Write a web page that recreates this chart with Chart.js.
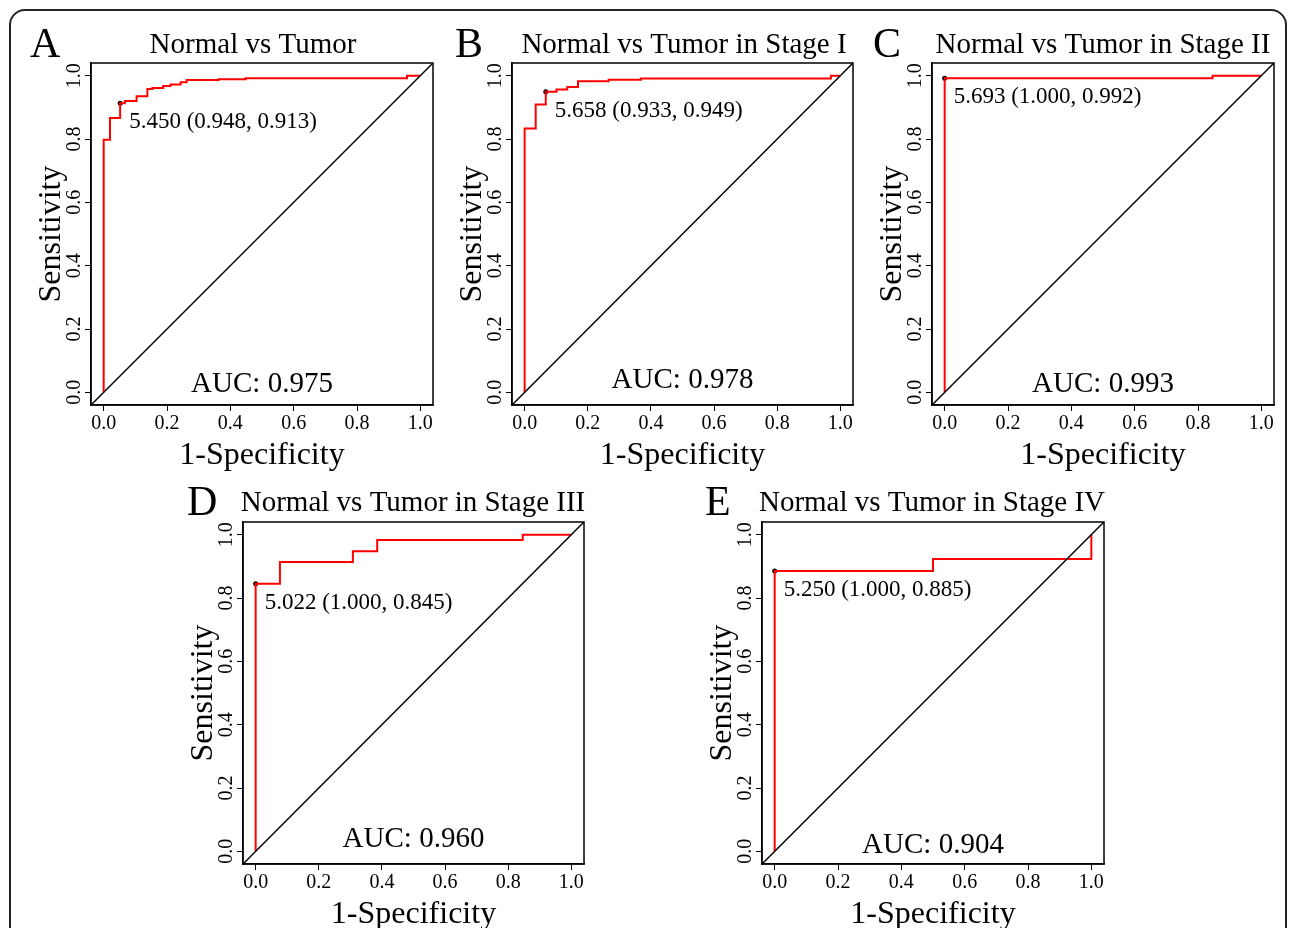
<!DOCTYPE html>
<html>
<head>
<meta charset="utf-8">
<script src="https://cdn.jsdelivr.net/npm/chart.js@4.4.1/dist/chart.umd.min.js"></script>
<style>
    html, body { margin: 0; padding: 0; background: #fff; }
    #wrap { position: relative; width: 1292px; height: 928px; overflow: hidden; }
    #frame { position: absolute; left: 9px; top: 9px; width: 1274px; height: 960px; border: 2px solid #222; border-radius: 16px; }
    canvas { position: absolute; left: 0; top: 0; }
</style>
</head>
<body>
<div id="wrap">
    <div id="frame"></div>
    <canvas id="c0" width="1292" height="928"></canvas>
    <canvas id="c1" width="1292" height="928"></canvas>
    <canvas id="c2" width="1292" height="928"></canvas>
    <canvas id="c3" width="1292" height="928"></canvas>
    <canvas id="c4" width="1292" height="928"></canvas>
</div>
<script>
// --- data ---
const panelLetters = ['A', 'B', 'C', 'D', 'E'];
const panelTitles = [
    'Normal vs Tumor',
    'Normal vs Tumor in Stage I',
    'Normal vs Tumor in Stage II',
    'Normal vs Tumor in Stage III',
    'Normal vs Tumor in Stage IV'
];
const aucValues = ['0.975', '0.978', '0.993', '0.960', '0.904'];
const thrValues = ['5.450', '5.658', '5.693', '5.022', '5.250'];
const thrSpec = [0.948, 0.933, 1.000, 1.000, 1.000];
const thrSens = [0.913, 0.949, 0.992, 0.845, 0.885];

// ROC points: 1-specificity / sensitivity (drawn as steps)
const fprA = [0, 0, 0.020, 0.052, 0.067, 0.104, 0.138, 0.154, 0.188, 0.211, 0.243, 0.262, 0.363, 0.448, 0.958, 1.0];
const tprA = [0, 0.798, 0.866, 0.913, 0.920, 0.935, 0.958, 0.961, 0.967, 0.972, 0.979, 0.986, 0.989, 0.992, 1.0, 1.0];
const fprB = [0, 0, 0.035, 0.067, 0.101, 0.135, 0.169, 0.266, 0.368, 0.970, 1.0];
const tprB = [0, 0.833, 0.909, 0.949, 0.956, 0.964, 0.982, 0.987, 0.991, 1.0, 1.0];
const fprC = [0, 0, 0.846, 1.0];
const tprC = [0, 0.992, 1.0, 1.0];
const fprD = [0, 0, 0.077, 0.308, 0.385, 0.846, 1.0];
const tprD = [0, 0.845, 0.914, 0.948, 0.983, 1.0, 1.0];
const fprE = [0, 0, 0.5, 1.0];
const tprE = [0, 0.885, 0.923, 1.0];

const tickValues = [0, 0.2, 0.4, 0.6, 0.8, 1.0];
const diagX = [-0.04, 1.04];
const diagY = [-0.04, 1.04];

const rocX = [fprA, fprB, fprC, fprD, fprE];
const rocY = [tprA, tprB, tprC, tprD, tprE];

// --- layout (pixels) ---
const W = 1292, H = 928, YW = 40, XH = 40;
const boxes = [
    { l: 91,  t: 63,  r: 433,  b: 405, titleX: 253,  titleY: 53,  letterX: 30,  letterY: 57,  aucY: 0.0 },
    { l: 512, t: 63,  r: 853,  b: 405, titleX: 684,  titleY: 53,  letterX: 455, letterY: 57,  aucY: 0.013 },
    { l: 932, t: 63,  r: 1274, b: 405, titleX: 1103, titleY: 53,  letterX: 873, letterY: 57,  aucY: 0.0 },
    { l: 243, t: 522, r: 584,  b: 864, titleX: 413,  titleY: 511, letterX: 187, letterY: 515, aucY: 0.013 },
    { l: 762, t: 522, r: 1104, b: 864, titleX: 932,  titleY: 511, letterX: 705, letterY: 515, aucY: -0.006 }
];
const SERIF = '"Liberation Serif", "DejaVu Serif", serif';

function decor(i) {
    const bx = boxes[i];
    return {
        id: 'decor' + i,
        afterDraw(chart) {
            const { ctx, chartArea: a, scales: { x, y } } = chart;
            ctx.save();
            ctx.strokeStyle = '#000';
            ctx.lineWidth = 1.5;
            ctx.strokeRect(a.left, a.top, a.right - a.left, a.bottom - a.top);
            ctx.fillStyle = '#000';

            // rotated y tick labels
            ctx.font = '20px ' + SERIF;
            ctx.textAlign = 'center';
            ctx.textBaseline = 'alphabetic';
            y.ticks.forEach(t => {
                ctx.save();
                ctx.translate(a.left - 11, y.getPixelForValue(t.value));
                ctx.rotate(-Math.PI / 2);
                ctx.fillText(t.value.toFixed(1), 0, 0);
                ctx.restore();
            });

            // axis titles
            ctx.font = '32px ' + SERIF;
            ctx.fillText('1-Specificity', (a.left + a.right) / 2, a.bottom + 59);
            ctx.save();
            ctx.translate(a.left - 31, (a.top + a.bottom) / 2);
            ctx.rotate(-Math.PI / 2);
            ctx.fillText('Sensitivity', 0, 0);
            ctx.restore();

            // panel title + letter
            ctx.font = '29px ' + SERIF;
            ctx.fillText(panelTitles[i], bx.titleX, bx.titleY);
            ctx.font = '42px ' + SERIF;
            ctx.textAlign = 'left';
            ctx.fillText(panelLetters[i], bx.letterX, bx.letterY);

            // AUC
            ctx.font = '29px ' + SERIF;
            ctx.textAlign = 'center';
            ctx.fillText('AUC: ' + aucValues[i], x.getPixelForValue(0.5), y.getPixelForValue(bx.aucY));

            // threshold label
            ctx.font = '23px ' + SERIF;
            ctx.textAlign = 'left';
            const px = x.getPixelForValue(1 - thrSpec[i]);
            const py = y.getPixelForValue(thrSens[i]);
            ctx.fillText(thrValues[i] + ' (' + thrSpec[i].toFixed(3) + ', ' + thrSens[i].toFixed(3) + ')', px + 9, py + 25);
            ctx.restore();
        }
    };
}

function axisOpts(isX) {
    return {
        type: 'linear',
        min: -0.04,
        max: 1.04,
        afterBuildTicks: s => { s.ticks = tickValues.map(v => ({ value: v })); },
        afterFit: s => { if (isX) s.height = XH; else s.width = YW; },
        ticks: {
            display: isX,
            autoSkip: false,
            maxRotation: 0,
            padding: 1,
            color: '#000',
            font: { family: SERIF, size: 20 },
            callback: v => Number(v).toFixed(1)
        },
        grid: { drawOnChartArea: false, drawTicks: true, tickLength: 6, color: '#000', lineWidth: 1 },
        border: { display: true, color: '#000', width: 1.5 }
    };
}

function makePanel(i) {
    const bx = boxes[i];
    const roc = rocX[i].map((v, k) => ({ x: v, y: rocY[i][k] }));
    const diag = diagX.map((v, k) => ({ x: v, y: diagY[k] }));
    new Chart(document.getElementById('c' + i), {
        type: 'scatter',
        data: {
            datasets: [
                { data: diag, showLine: true, borderColor: '#000', borderWidth: 1.5, pointRadius: 0 },
                { data: roc, showLine: true, stepped: true, borderColor: '#ff0000', borderWidth: 2, pointRadius: 0 },
                { data: [{ x: 1 - thrSpec[i], y: thrSens[i] }], pointRadius: 2.5, backgroundColor: '#000', borderWidth: 0 }
            ]
        },
        options: {
            responsive: false,
            animation: false,
            events: [],
            layout: { padding: { left: bx.l - YW, top: bx.t, right: W - bx.r, bottom: H - bx.b - XH } },
            plugins: { legend: { display: false }, tooltip: { enabled: false } },
            scales: { x: axisOpts(true), y: axisOpts(false) }
        },
        plugins: [decor(i)]
    });
}

for (let i = 0; i < 5; i++) makePanel(i);
</script>
</body>
</html>
